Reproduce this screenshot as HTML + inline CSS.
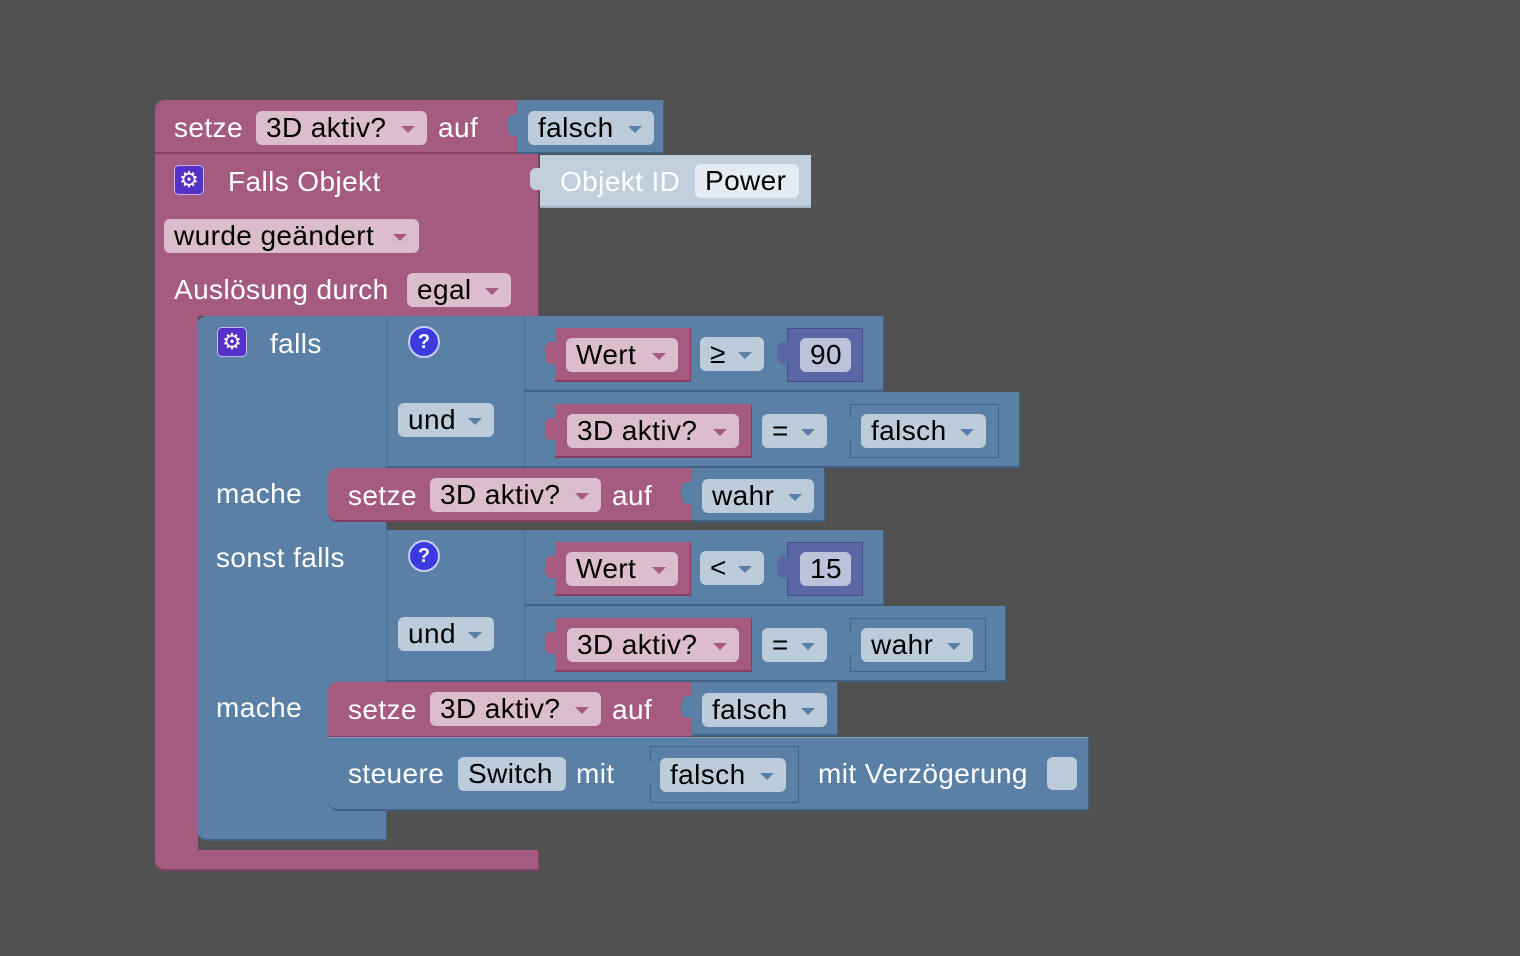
<!DOCTYPE html>
<html><head><meta charset="utf-8">
<style>
body{margin:0;width:1520px;height:956px;background:#515151;overflow:hidden;font-family:"Liberation Sans",sans-serif;}
.b{position:absolute;box-sizing:border-box;}
.p{background:#a55b80;border-bottom:2px solid #843f63;border-right:1px solid #843f63;}
.u{background:#5b80a5;border-bottom:2px solid #3f6285;border-right:1px solid #3f6285;}
.n{background:#5b67a5;border:1px solid #434d85;}
.t{position:absolute;color:#fff;font-size:28px;letter-spacing:0.4px;line-height:34px;white-space:nowrap;}
.f{position:absolute;box-sizing:border-box;border-radius:6px;font-size:28px;letter-spacing:0.4px;line-height:34px;height:34px;padding-left:10px;color:#000;white-space:nowrap;}
.fp{background:#dcbdcc;}
.fb{background:#bdccdb;}
.fn{background:#bdc2db;}
.dp::after,.db::after{content:"";position:absolute;right:12px;top:15px;border-left:7px solid transparent;border-right:7px solid transparent;border-top:7px solid #a55b80;}
.db::after{border-top-color:#5b80a5;}
.gear{position:absolute;width:30px;height:30px;border-radius:5px;background:#5531c8;border:1px solid #c9b8e6;box-sizing:border-box;color:#fff;font-size:22px;line-height:28px;text-align:center;}
.q{position:absolute;width:32px;height:32px;border-radius:50%;background:#3b3be0;border:2px solid #c6cdf0;box-sizing:border-box;color:#fff;font-weight:bold;font-size:20px;line-height:28px;text-align:center;}
.tab{position:absolute;width:12px;height:22px;border-radius:6px 0 0 6px;}
</style></head><body>

<div class="b p" style="left:155px;top:100px;width:364px;height:54px;border-radius:10px 0 0 0;"></div>
<div class="b p" style="left:155px;top:154px;width:384px;height:162px;border-bottom:none;"></div>
<div class="b p" style="left:155px;top:300px;width:43px;height:560px;border-radius:0 0 0 10px;border-right:none;"></div>
<div class="b p" style="left:155px;top:850px;width:384px;height:21px;border-radius:0 0 0 10px;"></div>
<div class="t" style="left:174px;top:111px;">setze</div>
<div class="f fp dp" style="left:256px;top:111px;width:171px;">3D aktiv?</div>
<div class="t" style="left:438px;top:111px;">auf</div>
<div class="b u" style="left:518px;top:100px;width:146px;height:54px;"></div>
<div class="tab" style="left:508px;top:114px;background:#5b80a5;"></div>
<div class="f fb db" style="left:528px;top:111px;width:126px;">falsch</div>

<div class="gear" style="left:174px;top:165px;">⚙</div>
<div class="t" style="left:228px;top:165px;">Falls Objekt</div>
<div class="b" style="left:540px;top:155px;width:271px;height:53px;background:#c1cfdd;border-bottom:2px solid #9eb0c2;"></div>
<div class="tab" style="left:530px;top:168px;background:#c1cfdd;"></div>
<div class="t" style="left:560px;top:165px;">Objekt ID</div>
<div class="f" style="left:695px;top:164px;width:104px;background:#e5ebf2;">Power</div>
<div class="f fp dp" style="left:164px;top:219px;width:255px;">wurde geändert</div>
<div class="t" style="left:174px;top:273px;">Auslösung durch</div>
<div class="f fp dp" style="left:407px;top:273px;width:104px;">egal</div>

<div class="b u" style="left:197px;top:316px;width:190px;height:525px;border-radius:10px 0 0 10px;"></div>
<div class="b u" style="left:386px;top:316px;width:140px;height:152px;border-left:1px solid #4a6e92;"></div>
<div class="b u" style="left:386px;top:530px;width:140px;height:152px;border-left:1px solid #4a6e92;"></div>
<div class="gear" style="left:217px;top:327px;">⚙</div>
<div class="t" style="left:270px;top:327px;">falls</div>
<div class="q" style="left:408px;top:326px;">?</div>
<div class="f fb db" style="left:398px;top:403px;width:96px;">und</div>
<div class="t" style="left:216px;top:477px;">mache</div>
<div class="t" style="left:216px;top:541px;">sonst falls</div>
<div class="q" style="left:408px;top:540px;">?</div>
<div class="f fb db" style="left:398px;top:617px;width:96px;">und</div>
<div class="t" style="left:216px;top:691px;">mache</div>

<div class="b u" style="left:524px;top:316px;width:360px;height:76px;border-left:1px solid #4a6e92;"></div>
<div class="b p" style="left:555px;top:328px;width:136px;height:54px;"></div>
<div class="tab" style="left:545px;top:342px;background:#a55b80;"></div>
<div class="f fp dp" style="left:566px;top:338px;width:112px;">Wert</div>
<div class="f fb db" style="left:700px;top:337px;width:64px;">≥</div>
<div class="b n" style="left:787px;top:328px;width:76px;height:54px;"></div>
<div class="tab" style="left:777px;top:342px;background:#5b67a5;"></div>
<div class="f fn" style="left:800px;top:338px;width:51px;">90</div>

<div class="b u" style="left:524px;top:392px;width:496px;height:76px;border-left:1px solid #4a6e92;"></div>
<div class="b p" style="left:555px;top:404px;width:197px;height:54px;"></div>
<div class="tab" style="left:545px;top:418px;background:#a55b80;"></div>
<div class="f fp dp" style="left:567px;top:414px;width:172px;">3D aktiv?</div>
<div class="f fb db" style="left:762px;top:414px;width:65px;">=</div>
<div class="b u" style="left:850px;top:404px;width:149px;height:54px;border:1px solid #3f6285;"></div>
<div class="tab" style="left:840px;top:418px;background:#5b80a5;"></div>
<div class="f fb db" style="left:861px;top:414px;width:125px;">falsch</div>

<div class="b p" style="left:328px;top:468px;width:365px;height:54px;border-radius:10px 0 0 10px;"></div>
<div class="t" style="left:348px;top:479px;">setze</div>
<div class="f fp dp" style="left:430px;top:478px;width:171px;">3D aktiv?</div>
<div class="t" style="left:612px;top:479px;">auf</div>
<div class="b u" style="left:692px;top:468px;width:133px;height:54px;"></div>
<div class="tab" style="left:682px;top:482px;background:#5b80a5;"></div>
<div class="f fb db" style="left:702px;top:479px;width:112px;">wahr</div>

<div class="b u" style="left:524px;top:530px;width:360px;height:76px;border-left:1px solid #4a6e92;"></div>
<div class="b p" style="left:555px;top:542px;width:136px;height:54px;"></div>
<div class="tab" style="left:545px;top:556px;background:#a55b80;"></div>
<div class="f fp dp" style="left:566px;top:552px;width:112px;">Wert</div>
<div class="f fb db" style="left:700px;top:551px;width:64px;">&lt;</div>
<div class="b n" style="left:787px;top:542px;width:76px;height:54px;"></div>
<div class="tab" style="left:777px;top:556px;background:#5b67a5;"></div>
<div class="f fn" style="left:800px;top:552px;width:51px;">15</div>

<div class="b u" style="left:524px;top:606px;width:482px;height:76px;border-left:1px solid #4a6e92;"></div>
<div class="b p" style="left:555px;top:618px;width:197px;height:54px;"></div>
<div class="tab" style="left:545px;top:632px;background:#a55b80;"></div>
<div class="f fp dp" style="left:567px;top:628px;width:172px;">3D aktiv?</div>
<div class="f fb db" style="left:762px;top:628px;width:65px;">=</div>
<div class="b u" style="left:850px;top:618px;width:136px;height:54px;border:1px solid #3f6285;"></div>
<div class="tab" style="left:840px;top:632px;background:#5b80a5;"></div>
<div class="f fb db" style="left:861px;top:628px;width:112px;">wahr</div>

<div class="b p" style="left:328px;top:682px;width:365px;height:56px;border-radius:10px 0 0 0;"></div>
<div class="t" style="left:348px;top:693px;">setze</div>
<div class="f fp dp" style="left:430px;top:692px;width:171px;">3D aktiv?</div>
<div class="t" style="left:612px;top:693px;">auf</div>
<div class="b u" style="left:692px;top:682px;width:146px;height:54px;"></div>
<div class="tab" style="left:682px;top:696px;background:#5b80a5;"></div>
<div class="f fb db" style="left:702px;top:693px;width:125px;">falsch</div>

<div class="b u" style="left:328px;top:737px;width:761px;height:74px;border-radius:0 0 0 10px;border-top:1px solid #7b9ec0;"></div>
<div class="t" style="left:348px;top:757px;">steuere</div>
<div class="f fb" style="left:458px;top:757px;width:108px;">Switch</div>
<div class="t" style="left:576px;top:757px;">mit</div>
<div class="b u" style="left:650px;top:746px;width:149px;height:57px;border:1px solid #3f6285;"></div>
<div class="tab" style="left:640px;top:762px;background:#5b80a5;"></div>
<div class="f fb db" style="left:660px;top:758px;width:126px;">falsch</div>
<div class="t" style="left:818px;top:757px;">mit Verzögerung</div>
<div class="b" style="left:1047px;top:757px;width:30px;height:33px;border-radius:6px;background:#bdccdb;"></div>

</body></html>
